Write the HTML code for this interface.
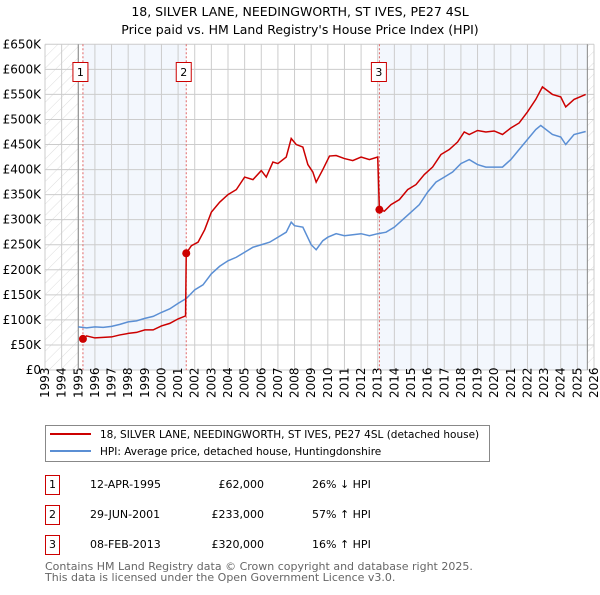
<!DOCTYPE html>
<html><head><meta charset="utf-8"><style>
body{margin:0;background:#fff;}
svg{font-family:"DejaVu Sans","Liberation Sans",sans-serif;}
</style></head><body>
<svg id="c" width="600" height="590" xmlns="http://www.w3.org/2000/svg">
<defs><pattern id="hatch" width="8" height="8" patternUnits="userSpaceOnUse" patternTransform="rotate(45)"><line x1="0" y1="0" x2="0" y2="8" stroke="#ddd" stroke-width="1"/></pattern></defs>
<text x="300" y="16" text-anchor="middle" font-size="12.5">18, SILVER LANE, NEEDINGWORTH, ST IVES, PE27 4SL</text>
<text x="300" y="34" text-anchor="middle" font-size="12.5">Price paid vs. HM Land Registry's House Price Index (HPI)</text>
<g id="plot"></g>
<g>
<rect x="45.5" y="425.5" width="444" height="36" fill="#fff" stroke="#888"/>
<line x1="50" y1="434" x2="91" y2="434" stroke="#cc0000" stroke-width="2"/>
<text x="100" y="438" font-size="10.5">18, SILVER LANE, NEEDINGWORTH, ST IVES, PE27 4SL (detached house)</text>
<line x1="50" y1="451" x2="91" y2="451" stroke="#5b8fd4" stroke-width="2"/>
<text x="100" y="455" font-size="10.5">HPI: Average price, detached house, Huntingdonshire</text>
</g>
<g id="table" font-size="11"></g>
<text x="45" y="570" font-size="11" fill="#666">Contains HM Land Registry data © Crown copyright and database right 2025.</text>
<text x="45" y="581" font-size="11" fill="#666">This data is licensed under the Open Government Licence v3.0.</text>
</svg>
<script>
const yTicks=[0,50,100,150,200,250,300,350,400,450,500,550,600,650];
const years=[1993,1994,1995,1996,1997,1998,1999,2000,2001,2002,2003,2004,2005,2006,2007,2008,2009,2010,2011,2012,2013,2014,2015,2016,2017,2018,2019,2020,2021,2022,2023,2024,2025,2026];
const hpiT=[1995.0,1995.5,1996,1996.5,1997,1997.5,1998,1998.5,1999,1999.5,2000,2000.5,2001,2001.5,2002,2002.5,2003,2003.5,2004,2004.5,2005,2005.5,2006,2006.5,2007,2007.5,2007.8,2008,2008.5,2009,2009.3,2009.7,2010,2010.5,2011,2011.5,2012,2012.5,2013,2013.5,2014,2014.5,2015,2015.5,2016,2016.5,2017,2017.5,2018,2018.5,2019,2019.5,2020,2020.5,2021,2021.5,2022,2022.5,2022.8,2023.5,2024,2024.3,2024.8,2025.5];
const hpiV=[86,84,86,85,87,91,96,98,103,107,115,122,133,143,160,170,192,207,218,225,235,245,250,255,265,275,295,288,285,250,240,258,265,272,268,270,272,268,272,275,285,300,315,330,355,375,385,395,412,420,410,405,405,405,420,440,460,480,488,470,465,450,470,476];
const redT=[1995.28,1995.5,1996,1997,1997.5,1998,1998.5,1999,1999.5,2000,2000.5,2001,2001.45,2001.49,2001.8,2002.2,2002.6,2003,2003.5,2004,2004.5,2005,2005.5,2006,2006.3,2006.7,2007,2007.5,2007.8,2008.1,2008.5,2008.8,2009.1,2009.3,2009.7,2010.1,2010.5,2011,2011.5,2012,2012.5,2013.0,2013.1,2013.4,2013.8,2014.3,2014.8,2015.3,2015.8,2016.3,2016.8,2017.3,2017.8,2018.2,2018.5,2019,2019.5,2020,2020.5,2021,2021.5,2022,2022.5,2022.9,2023.5,2024,2024.3,2024.8,2025.5];
const redV=[62,68,64,66,70,73,75,80,80,88,93,102,108,233,248,255,280,315,335,350,360,385,380,398,385,415,412,425,462,450,445,410,395,375,400,427,428,422,418,425,420,425,320,317,330,340,360,370,390,405,430,440,455,475,470,478,475,477,470,483,493,515,540,565,550,545,525,540,550];
const saleT=[1995.28,2001.49,2013.1];
const saleV=[62,233,320];
const saleLabels=["1","2","3"];
const saleDates=["12-APR-1995","29-JUN-2001","08-FEB-2013"];
const salePrices=["£62,000","£233,000","£320,000"];
const saleDiff=["26% ↓ HPI","57% ↑ HPI","16% ↑ HPI"];
const NS="http://www.w3.org/2000/svg";
const X0=45,X1=594,Y0=370,Y1=44.3;
const x=t=>X0+(t-1993)/(2026-1993)*(X1-X0);
const y=v=>Y0-v/650*(Y0-Y1);
const g=document.getElementById('plot');
function mk(tag,at,parent){const e=document.createElementNS(NS,tag);for(const k in at)e.setAttribute(k,at[k]);(parent||g).appendChild(e);return e;}
let e;
e=mk('rect',{x:x(1993),y:Y1,width:x(1995)-x(1993),height:Y0-Y1,fill:'url(#hatch)'});

e=mk('rect',{x:x(2025.6),y:Y1,width:X1-x(2025.6),height:Y0-Y1,fill:'url(#hatch)'});

e=mk('rect',{x:x(saleT[0]),y:Y1,width:x(saleT[1])-x(saleT[0]),height:Y0-Y1,fill:'#eef3fc',opacity:0.7});

e=mk('rect',{x:x(saleT[2]),y:Y1,width:x(2025.6)-x(saleT[2]),height:Y0-Y1,fill:'#eef3fc',opacity:0.7});

yTicks.forEach(v=>{
 e=mk('line',{x1:X0,x2:X1,y1:y(v),y2:y(v),stroke:'#ccc'});
 
 e=mk('text',{x:X0-4,y:y(v)+4,'text-anchor':'end','font-size':'12'});e.textContent=v===0?'£0':'£'+v+'K';
 
});
years.forEach(t=>{
 e=mk('line',{x1:x(t),x2:x(t),y1:Y1,y2:Y0,stroke:'#ccc'});
 
 e=mk('text',{transform:`translate(${x(t)+4},${Y0+28}) rotate(-90)`,'font-size':'12'});e.textContent=t;
 
});
e=mk('line',{x1:x(1995),x2:x(1995),y1:Y1,y2:Y0,stroke:'#888'});

e=mk('line',{x1:x(2025.6),x2:x(2025.6),y1:Y1,y2:Y0,stroke:'#888'});

saleT.forEach((t,i)=>{
 e=mk('line',{x1:x(t),x2:x(t),y1:Y1,y2:Y0,stroke:'#e06666','stroke-dasharray':'2,2'});
 
});
e=mk('polyline',{points:hpiT.map((t,i)=>x(t)+','+y(hpiV[i])).join(' '),fill:'none',stroke:'#5b8fd4','stroke-width':1.5});

e=mk('polyline',{points:redT.map((t,i)=>x(t)+','+y(redV[i])).join(' '),fill:'none',stroke:'#cc0000','stroke-width':1.5});

saleT.forEach((t,i)=>{
 e=mk('circle',{cx:x(t),cy:y(saleV[i]),r:4,fill:'#cc0000'});
 
 const bx=x(t)-8-(i==2?0:2);
 e=mk('rect',{x:bx,y:62.5,width:15,height:19,fill:'#fff',stroke:'#cc0000'});
 
 e=mk('text',{x:bx+7.5,y:76,'text-anchor':'middle','font-size':'11'});e.textContent=saleLabels[i];
 
});
const tb=document.getElementById('table');
saleLabels.forEach((l,i)=>{
 const ry=475+i*30;
 e=mk('rect',{x:45.5,y:ry+0.5,width:14,height:19,fill:'#fff',stroke:'#cc0000'},tb);
 
 e=mk('text',{x:52.5,y:ry+13,'text-anchor':'middle'},tb);e.textContent=l;
 
 e=mk('text',{x:90,y:ry+13},tb);e.textContent=saleDates[i];
 
 e=mk('text',{x:264,y:ry+13,'text-anchor':'end'},tb);e.textContent=salePrices[i];
 
 e=mk('text',{x:312,y:ry+13},tb);e.textContent=saleDiff[i];
 
});
</script>
</body></html>
